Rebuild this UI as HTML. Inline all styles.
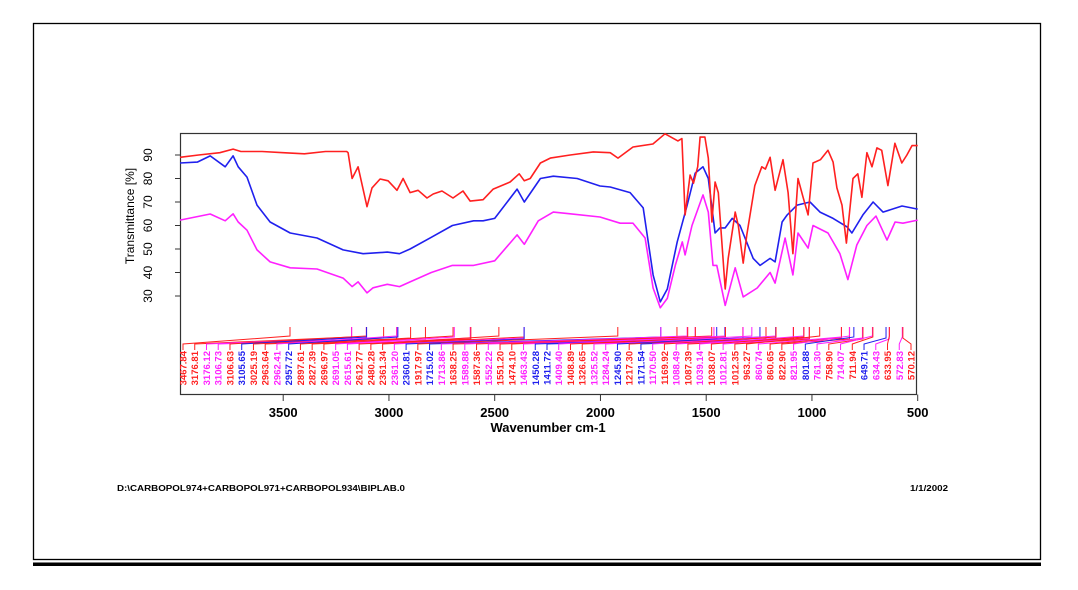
<!DOCTYPE html>
<html><head><meta charset="utf-8"><style>
body{margin:0;background:#fff;}
svg{display:block;font-family:"Liberation Sans",Arial,sans-serif;}
</style></head><body>
<svg id="c" width="1078" height="590" viewBox="0 0 1078 590">
<rect x="33.5" y="23.5" width="1007" height="536" fill="none" stroke="#000" stroke-width="1.3"/>
<rect x="33" y="562.5" width="1008" height="3.5" fill="#000"/>
<rect x="180.5" y="133.5" width="736" height="261" fill="none" stroke="#333" stroke-width="1.2"/>
<g id="yax"></g>
<g id="xax"></g>
<text x="134" y="216" transform="rotate(-90 134 216)" text-anchor="middle" font-size="12">Transmittance [%]</text>
<text x="548" y="432" text-anchor="middle" font-size="13" font-weight="bold">Wavenumber cm-1</text>
<g id="peaks"></g>
<g id="series"></g>
<text x="117" y="491" font-size="8" font-weight="bold" textLength="288" lengthAdjust="spacingAndGlyphs">D:\CARBOPOL974+CARBOPOL971+CARBOPOL934\BIPLAB.0</text>
<text x="910" y="491" font-size="8" font-weight="bold" textLength="38" lengthAdjust="spacingAndGlyphs">1/1/2002</text>
</svg>
<script>
const xTicks=[3500,3000,2500,2000,1500,1000,500];
const yTicks=[30,40,50,60,70,80,90];
const redW=[3988,3900,3800,3737,3700,3600,3500,3400,3300,3200,3193,3174,3146,3104,3080,3042,3004,2962,2933,2900,2862,2820,2791,2749,2697,2650,2616,2555,2507,2427,2384,2360,2332,2284,2237,2143,2034,1954,1917,1846,1752,1695,1634,1615,1600,1576,1560,1540,1529,1506,1490,1473,1458,1443,1410,1396,1363,1348,1325,1308,1270,1237,1220,1198,1174,1137,1113,1090,1066,1042,1018,995,960,924,900,882,858,837,806,783,764,740,716,693,670,641,608,575,551,527,500];
const redT=[89,90,91,92.5,91.5,91.5,91,90.5,91.5,91.5,91,80,85,68,76,79.8,79,75,80,74,75,71.7,73.4,74.7,71.7,74.7,70.4,71,75.5,78.5,82,79,80,86.6,88.7,90,91.3,91,88.7,93.4,94.7,99,96,97,64.5,81.5,78,85,97.6,97.6,88.7,61.5,78.5,74,33,46,65.7,60,44,56,77,85,84,89,75,88,74,48,80,72,64.5,86.6,88,92,87,76,68.7,52.5,80,82,72,91,85,93,92,77,95,86.6,90,94,94];
const blueW=[3988,3906,3845,3774,3737,3713,3671,3624,3562,3467,3340,3217,3122,3008,2950,2900,2800,2700,2600,2555,2500,2394,2360,2284,2223,2110,2002,1954,1860,1798,1751,1717,1684,1637,1590,1552,1515,1490,1458,1435,1410,1377,1340,1278,1245,1198,1174,1141,1117,1070,1009,962,900,834,811,759,711,664,574,500];
const blueT=[86.6,87,89.6,85,89.6,85,80.6,68.7,61.5,56.8,54.7,49.6,48,48.7,48,50,55,60,62,62,63,75.5,70,80,81,80,76.8,76.4,74,67.5,39,27.5,33,53,68.7,82.3,85,80,56.8,59,59,63,60,46,43,46,44.5,61.5,64.5,68.7,70,65.7,63,59.4,56.8,64.5,70,65.7,68.3,67];
const magW=[3988,3845,3774,3737,3713,3671,3624,3562,3467,3340,3217,3174,3146,3104,3075,3008,2950,2900,2800,2700,2600,2500,2394,2360,2294,2223,2143,2002,1907,1846,1789,1751,1717,1684,1646,1613,1600,1567,1515,1490,1468,1450,1410,1363,1325,1259,1198,1174,1127,1090,1066,1018,995,924,868,830,788,740,697,645,607,570,500];
const magT=[62.3,64.9,62,65,61.5,58,49.6,44.5,42,41.5,37.6,34,36,31.3,33.5,35,34,36,40,43,43,45,56,52,62,65.7,65,63.6,61,61,54.7,33.4,25,29,43,53,47.5,60,73,65.7,43,43,26,42,29.6,33.4,40,35.5,54.7,39,56.8,50.4,60,56.8,48,37,51.7,60,64,53.8,61.5,61,62.3];
const peakW=[3467.84,3176.81,3176.12,3106.73,3106.63,3105.65,3025.19,2963.64,2962.41,2957.72,2897.61,2827.39,2696.97,2691.05,2615.61,2612.77,2480.28,2361.34,2361.20,2360.81,1917.97,1715.02,1713.86,1638.25,1589.88,1587.36,1552.22,1551.20,1474.10,1463.43,1450.28,1411.72,1409.40,1408.89,1326.65,1325.52,1284.24,1245.90,1217.30,1171.54,1170.50,1169.92,1088.49,1087.39,1039.14,1038.07,1012.81,1012.35,963.27,860.74,860.65,822.90,821.95,801.88,761.30,758.90,714.07,711.94,649.71,634.43,633.95,572.83,570.12];
const peakS=["r","r","m","m","r","b","r","r","m","b","r","r","r","m","m","r","r","r","m","b","r","b","m","r","m","r","m","r","r","m","b","b","m","r","r","m","m","b","r","b","m","r","m","r","m","r","m","r","r","m","r","r","m","b","m","r","m","r","b","m","r","m","r"];
const COL={r:"#ff2020",b:"#2020ee",m:"#ff20ff"};
const NS="http://www.w3.org/2000/svg";
const X=w=>917.7-(w-500)*0.2115;
const Y=v=>155+(90-v)*2.35;
function mk(tag,attrs,parent){const e=document.createElementNS(NS,tag);for(const k in attrs)e.setAttribute(k,attrs[k]);parent.appendChild(e);return e;}
const yax=document.getElementById('yax');
yTicks.forEach(v=>{
  const t=mk('line',{x1:175,x2:180.5,y1:Y(v),y2:Y(v),stroke:'#333'},yax);
  
  
  const l=mk('text',{x:152,y:Y(v),'text-anchor':'middle','font-size':12,transform:`rotate(-90 152 ${Y(v)})`},yax);
  l.textContent=v;
  
  
});
const xax=document.getElementById('xax');
xTicks.forEach(w=>{
  const t=mk('line',{x1:X(w),x2:X(w),y1:394.5,y2:401,stroke:'#333'},xax);
  
  
  const l=mk('text',{x:X(w),y:417,'text-anchor':'middle','font-size':13,'font-weight':'bold'},xax);
  l.textContent=w;
  
  
});
const pk=document.getElementById('peaks');
const n=peakW.length;
peakW.forEach((w,i)=>{
  const lx=183+i*(911-183)/(n-1), px=X(w), c=COL[peakS[i]];
  const jy=336+ (i%4);
  const p=mk('polyline',{points:`${lx},350 ${lx},344 ${px},${jy} ${px},327`,fill:'none',stroke:c,'stroke-width':1},pk);
  
  
  const t=mk('text',{x:lx+3.5,y:351,'font-size':9.5,'font-weight':'bold',fill:c,'text-anchor':'end',transform:`rotate(-90 ${lx+3.5} 351)`},pk);
  t.textContent=w.toFixed(2);
  
  
});
const sg=document.getElementById('series');
function line(W,T,c,name){
  const pts=W.map((w,i)=>X(w).toFixed(1)+','+Y(Math.min(T[i],99)).toFixed(1)).join(' ');
  const p=mk('polyline',{points:pts,fill:'none',stroke:c,'stroke-width':1.6,'stroke-linejoin':'round'},sg);
  
  
}
line(magW,magT,'#ff20ff','series-magenta');
line(blueW,blueT,'#2020ee','series-blue');
line(redW,redT,'#ff2020','series-red');
</script>
</body></html>
